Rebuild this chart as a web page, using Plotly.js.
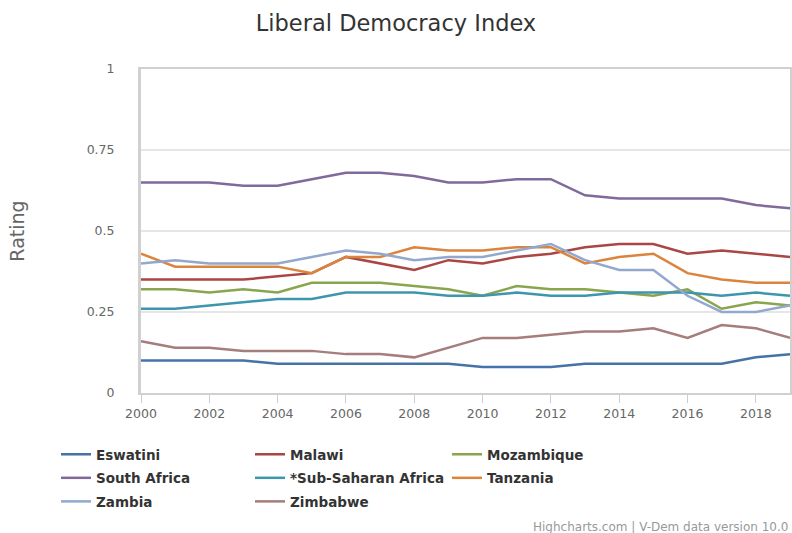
<!DOCTYPE html>
<html>
<head>
<meta charset="utf-8">
<script src="https://cdn.plot.ly/plotly-3.0.1.min.js"></script>
<style>
html,body{margin:0;padding:0;background:#fff;}
#chart{width:792px;height:533px;}
</style>
</head>
<body>
<div id="chart"></div>
<script>
const years = [2000,2001,2002,2003,2004,2005,2006,2007,2008,2009,2010,2011,2012,2013,2014,2015,2016,2017,2018,2019];

const eswatini     = [0.10,0.10,0.10,0.10,0.09,0.09,0.09,0.09,0.09,0.09,0.08,0.08,0.08,0.09,0.09,0.09,0.09,0.09,0.11,0.12];
const malawi       = [0.35,0.35,0.35,0.35,0.36,0.37,0.42,0.40,0.38,0.41,0.40,0.42,0.43,0.45,0.46,0.46,0.43,0.44,0.43,0.42];
const mozambique   = [0.32,0.32,0.31,0.32,0.31,0.34,0.34,0.34,0.33,0.32,0.30,0.33,0.32,0.32,0.31,0.30,0.32,0.26,0.28,0.27];
const southAfrica  = [0.65,0.65,0.65,0.64,0.64,0.66,0.68,0.68,0.67,0.65,0.65,0.66,0.66,0.61,0.60,0.60,0.60,0.60,0.58,0.57];
const subSaharan   = [0.26,0.26,0.27,0.28,0.29,0.29,0.31,0.31,0.31,0.30,0.30,0.31,0.30,0.30,0.31,0.31,0.31,0.30,0.31,0.30];
const tanzania     = [0.43,0.39,0.39,0.39,0.39,0.37,0.42,0.42,0.45,0.44,0.44,0.45,0.45,0.40,0.42,0.43,0.37,0.35,0.34,0.34];
const zambia       = [0.40,0.41,0.40,0.40,0.40,0.42,0.44,0.43,0.41,0.42,0.42,0.44,0.46,0.41,0.38,0.38,0.30,0.25,0.25,0.27];
const zimbabwe     = [0.16,0.14,0.14,0.13,0.13,0.13,0.12,0.12,0.11,0.14,0.17,0.17,0.18,0.19,0.19,0.20,0.17,0.21,0.20,0.17];

const seriesNames  = ["Eswatini","Malawi","Mozambique","South Africa","*Sub-Saharan Africa","Tanzania","Zambia","Zimbabwe"];
const seriesValues = [eswatini,malawi,mozambique,southAfrica,subSaharan,tanzania,zambia,zimbabwe];
const seriesColors = ["#4572A7","#AA4643","#89A54E","#80699B","#3D96AE","#DB843D","#92A8CD","#A47D7C"];

const yTicks = [0,0.25,0.5,0.75,1];
const yTickLabels = ["0","0.25","0.5","0.75","1"];
const xTicks = [2000,2002,2004,2006,2008,2010,2012,2014,2016,2018];

const legendIds = ['legend','legend2','legend3'];

const traces = seriesNames.map((n,i)=>({
  type:'scatter', mode:'lines', name:n, x:years, y:seriesValues[i],
  line:{color:seriesColors[i], width:2.5},
  legend: legendIds[i % 3], legendgroup:'g'+i
}));

const font = "DejaVu Sans, Verdana, sans-serif";
const legendFont = {family:font, size:13.5, color:'#333', weight:'bold'};
const plotL = 141, plotW = 649, plotB = 393, plotH = 324;
function leg(xpx){
  return {orientation:'v', x:(xpx-plotL)/plotW, xanchor:'left',
          y:-(439-plotB)/plotH, yanchor:'top', itemwidth:30, tracegroupgap:3,
          font:legendFont, bgcolor:'rgba(0,0,0,0)'};
}

const layout = {
  width:792, height:533,
  margin:{l:141, r:2, t:69, b:140},
  paper_bgcolor:'#fff', plot_bgcolor:'#fff',
  font:{family:font, color:'#666'},
  title:{text:'Liberal Democracy Index', x:0.5, xanchor:'center', y:0.957, yanchor:'middle',
         font:{family:font, size:22.5, color:'#333'}},
  xaxis:{range:[2000,2019], tickvals:xTicks, ticks:'outside', ticklen:8, tickcolor:'#C0D0E0', tickwidth:1,
         showgrid:false, zeroline:false, showline:true, linecolor:'#d0d0d0', linewidth:2, mirror:true,
         tickfont:{size:12.5, color:'#666', family:font}},
  yaxis:{range:[0,1], tickvals:yTicks, ticktext:yTickLabels, showgrid:true, gridcolor:'#e6e6e6', gridwidth:2,
         zeroline:false, showline:true, linecolor:'#d0d0d0', linewidth:3, mirror:true, ticks:'',
         ticklabelstandoff:21,
         tickfont:{size:12.5, color:'#666', family:font},
         title:{text:'Rating', standoff:58, font:{size:19, color:'#666', family:font}}},
  showlegend:true,
  legend:leg(56),
  legend2:leg(250),
  legend3:leg(447),
  annotations:[{text:'Highcharts.com | V-Dem data version 10.0', xref:'paper', yref:'paper', x:1.0, y:-0.415,
                xanchor:'right', yanchor:'middle', showarrow:false, font:{family:font, size:12, color:'#999'}}]
};

Plotly.newPlot('chart', traces, layout, {displayModeBar:false, staticPlot:true});
</script>
</body>
</html>
